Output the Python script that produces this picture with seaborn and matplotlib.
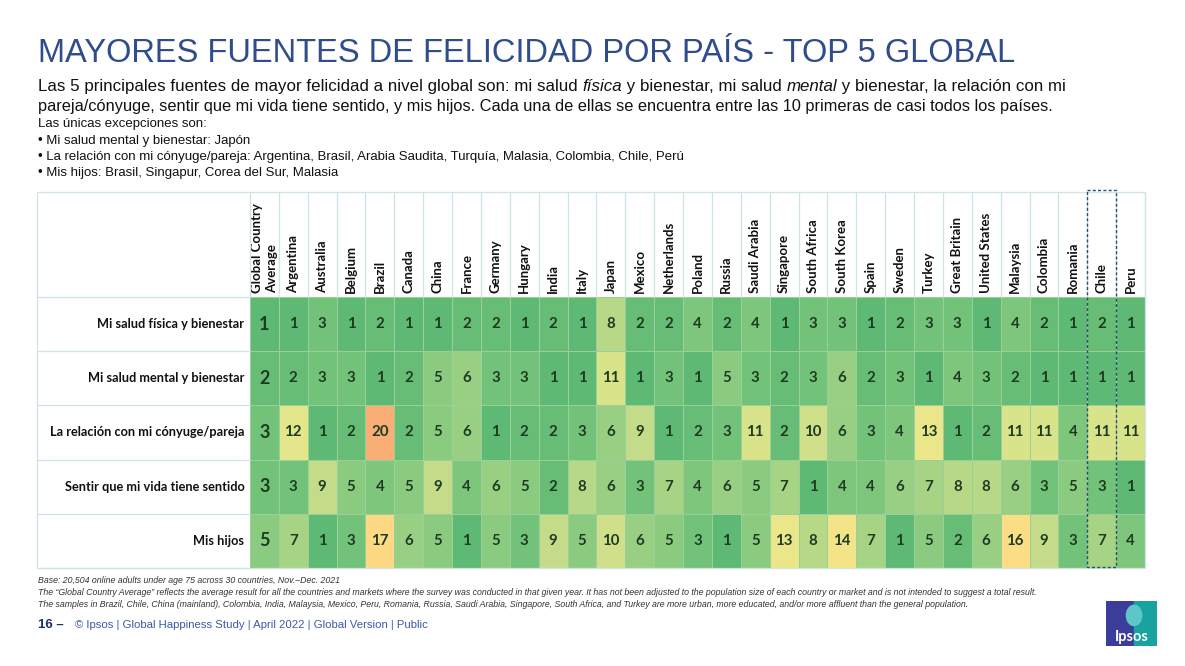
import matplotlib

matplotlib.use("Agg")
import matplotlib.pyplot as plt
import numpy as np
import pandas as pd
import seaborn as sns
from matplotlib.colors import LinearSegmentedColormap
from matplotlib.patches import Ellipse, Rectangle

countries = [
    "Global Country\nAverage", "Argentina", "Australia", "Belgium", "Brazil", "Canada",
    "China", "France", "Germany", "Hungary", "India", "Italy", "Japan", "Mexico",
    "Netherlands", "Poland", "Russia", "Saudi Arabia", "Singapore", "South Africa",
    "South Korea", "Spain", "Sweden", "Turkey", "Great Britain", "United States",
    "Malaysia", "Colombia", "Romania", "Chile", "Peru",
]
sources = [
    "Mi salud física y bienestar",
    "Mi salud mental y bienestar",
    "La relación con mi cónyuge/pareja",
    "Sentir que mi vida tiene sentido",
    "Mis hijos",
]
salud_fisica = [1, 1, 3, 1, 2, 1, 1, 2, 2, 1, 2, 1, 8, 2, 2, 4, 2, 4, 1, 3, 3, 1, 2, 3, 3, 1, 4, 2, 1, 2, 1]
salud_mental = [2, 2, 3, 3, 1, 2, 5, 6, 3, 3, 1, 1, 11, 1, 3, 1, 5, 3, 2, 3, 6, 2, 3, 1, 4, 3, 2, 1, 1, 1, 1]
relacion_pareja = [3, 12, 1, 2, 20, 2, 5, 6, 1, 2, 2, 3, 6, 9, 1, 2, 3, 11, 2, 10, 6, 3, 4, 13, 1, 2, 11, 11, 4, 11, 11]
vida_sentido = [3, 3, 9, 5, 4, 5, 9, 4, 6, 5, 2, 8, 6, 3, 7, 4, 6, 5, 7, 1, 4, 4, 6, 7, 8, 8, 6, 3, 5, 3, 1]
mis_hijos = [5, 7, 1, 3, 17, 6, 5, 1, 5, 3, 9, 5, 10, 6, 5, 3, 1, 5, 13, 8, 14, 7, 1, 5, 2, 6, 16, 9, 3, 7, 4]
highlight = "Chile"

df = pd.DataFrame(
    [salud_fisica, salud_mental, relacion_pareja, vida_sentido, mis_hijos],
    index=sources,
    columns=countries,
)

W, H = 1185, 666
sns.set_theme(style="white")
plt.rcParams["font.family"] = ["Liberation Sans", "DejaVu Sans"]

fig = plt.figure(figsize=(W / 100, H / 100), dpi=100)
fig.patch.set_facecolor("white")

# table geometry in pixels
t_left, t_top, t_right, t_bottom = 250, 297, 1145, 568
hdr_top, lab_left = 192, 37
ax = fig.add_axes([t_left / W, 1 - t_bottom / H, (t_right - t_left) / W, (t_bottom - t_top) / H])

cmap = LinearSegmentedColormap.from_list(
    "rank",
    [(0.0, "#5db973"), (0.21, "#8bcb80"), (0.42, "#c4dc89"), (0.58, "#e3e68b"),
     (0.684, "#f3e587"), (0.842, "#fdd983"), (1.0, "#f8ae74")],
)
cell_font = ["Lato", "DejaVu Sans"]
sns.heatmap(
    df, ax=ax, cmap=cmap, vmin=1, vmax=20, annot=True, fmt="d", cbar=False,
    linewidths=0.6, linecolor="#98d09a",
    annot_kws=dict(fontsize=10.8, fontweight="bold", color="#1d3b20", family=cell_font),
)
for t in ax.texts:
    if t.get_position()[0] < 1:
        t.set_fontsize(13)

ax.xaxis.tick_top()
ax.set_xticklabels(countries, rotation=90, fontsize=9.5, fontweight="bold", family=cell_font,
                   color="#111111")
for lbl in ax.get_xticklabels():
    lbl.set_multialignment("left")
    lbl.set_linespacing(1.35)
ax.set_yticklabels(sources, rotation=0, fontsize=9.2, fontweight="bold", family=cell_font, color="#111111")
ax.tick_params(length=0, pad=3)
ax.tick_params(axis="y", pad=4)
ax.set_xlabel("")
ax.set_ylabel("")

# table frame lines (header and label column)
ncol, nrow = df.shape[1], df.shape[0]
unit_x = (t_right - t_left) / ncol
unit_y = (t_bottom - t_top) / nrow
hdr = (t_top - hdr_top) / unit_y
lab = (t_left - lab_left) / unit_x
grid_c = "#cfe4e6"
ax.vlines(np.arange(ncol + 1), -hdr, 0, colors=grid_c, lw=0.9, clip_on=False)
ax.vlines([-lab, ncol], -hdr, nrow, colors=grid_c, lw=0.9, clip_on=False)
ax.hlines(np.arange(nrow + 1), -lab, 0, colors=grid_c, lw=0.9, clip_on=False)
ax.hlines([-hdr, nrow], -lab, ncol, colors=grid_c, lw=0.9, clip_on=False)

ci = countries.index(highlight)
ax.add_patch(Rectangle((ci, -hdr - 0.04), 1, nrow + hdr + 0.02, fill=False,
                       ec="#2f4b6e", lw=1.0, ls=(0, (2.2, 1.6)), clip_on=False, zorder=5))


def fx(x):
    return x / W


def fy(y):
    return 1 - y / H


renderer = fig.canvas.get_renderer()


def text_width(s, **kw):
    a = fig.text(0, 0, "a" + s + "a", **kw)
    b = fig.text(0, 0, "aa", **kw)
    w = a.get_window_extent(renderer).width - b.get_window_extent(renderer).width
    a.remove()
    b.remove()
    return w


def segments(x, y, parts, **kw):
    for s, style in parts:
        fig.text(fx(x), fy(y), s, style=style, va="baseline", **kw)
        x += text_width(s, style=style, **kw)


navy = "#2f4c8c"
fig.text(fx(38), fy(62), "MAYORES FUENTES DE FELICIDAD POR PAÍS - TOP 5 GLOBAL",
         fontsize=23.5, color=navy, va="baseline")

segments(38, 91, [
    ("Las 5 principales fuentes de mayor felicidad a nivel global son: mi salud ", "normal"),
    ("física", "italic"),
    (" y bienestar, mi salud ", "normal"),
    ("mental", "italic"),
    (" y bienestar, la relación con mi", "normal"),
], fontsize=12.2, color="#111111")
fig.text(fx(38), fy(111), "pareja/cónyuge, sentir que mi vida tiene sentido, y mis hijos. "
         "Cada una de ellas se encuentra entre las 10 primeras de casi todos los países.",
         va="baseline", fontsize=11.8, color="#111111")

small_kw = dict(fontsize=9.5, color="#111111", va="baseline")
fig.text(fx(38), fy(127), "Las únicas excepciones son:", **small_kw)
fig.text(fx(38), fy(144), "• Mi salud mental y bienestar: Japón", **small_kw)
fig.text(fx(38), fy(160), "• La relación con mi cónyuge/pareja: Argentina, Brasil, Arabia Saudita, "
         "Turquía, Malasia, Colombia, Chile, Perú", **small_kw)
fig.text(fx(38), fy(176), "• Mis hijos: Brasil, Singapur, Corea del Sur, Malasia", **small_kw)

note_kw = dict(fontsize=6.3, color="#333333", style="italic", va="baseline")
fig.text(fx(38), fy(583), "Base: 20,504 online adults under age 75 across 30 countries, Nov.–Dec. 2021", **note_kw)
fig.text(fx(38), fy(595), "The \u201cGlobal Country Average\u201d reflects the average result for all the countries "
         "and markets where the survey was conducted in that given year. It has not been adjusted to the "
         "population size of each country or market and is not intended to suggest a total result.", **note_kw)
fig.text(fx(38), fy(607), "The samples in Brazil, Chile, China (mainland), Colombia, India, Malaysia, Mexico, "
         "Peru, Romania, Russia, Saudi Arabia, Singapore, South Africa, and Turkey are more urban, more "
         "educated, and/or more affluent than the general population.", **note_kw)

fig.text(fx(38), fy(628), "16 –", fontsize=9.5, fontweight="bold", color="#1f2f6e", va="baseline")
fig.text(fx(75), fy(628), "© Ipsos | Global Happiness Study | April 2022 | Global Version | Public",
         fontsize=8.2, color="#3b5aa6", va="baseline")

# Ipsos logo
logo = fig.add_axes([fx(1106), fy(646), 51 / W, 45 / H])
logo.set_xlim(0, 1)
logo.set_ylim(0, 1)
logo.axis("off")
logo.add_patch(Rectangle((0, 0), 0.55, 1, color="#3a3d99"))
logo.add_patch(Rectangle((0.55, 0), 0.45, 1, color="#19a3a0"))
logo.add_patch(Ellipse((0.55, 0.68), 0.3, 0.45, color="#5fc6c8"))
logo.text(0.5, 0.2, "Ipsos", ha="center", va="center", color="white", fontsize=10.5,
          fontweight="bold", family=cell_font)

fig.savefig("out.png", dpi=100, facecolor="white")
